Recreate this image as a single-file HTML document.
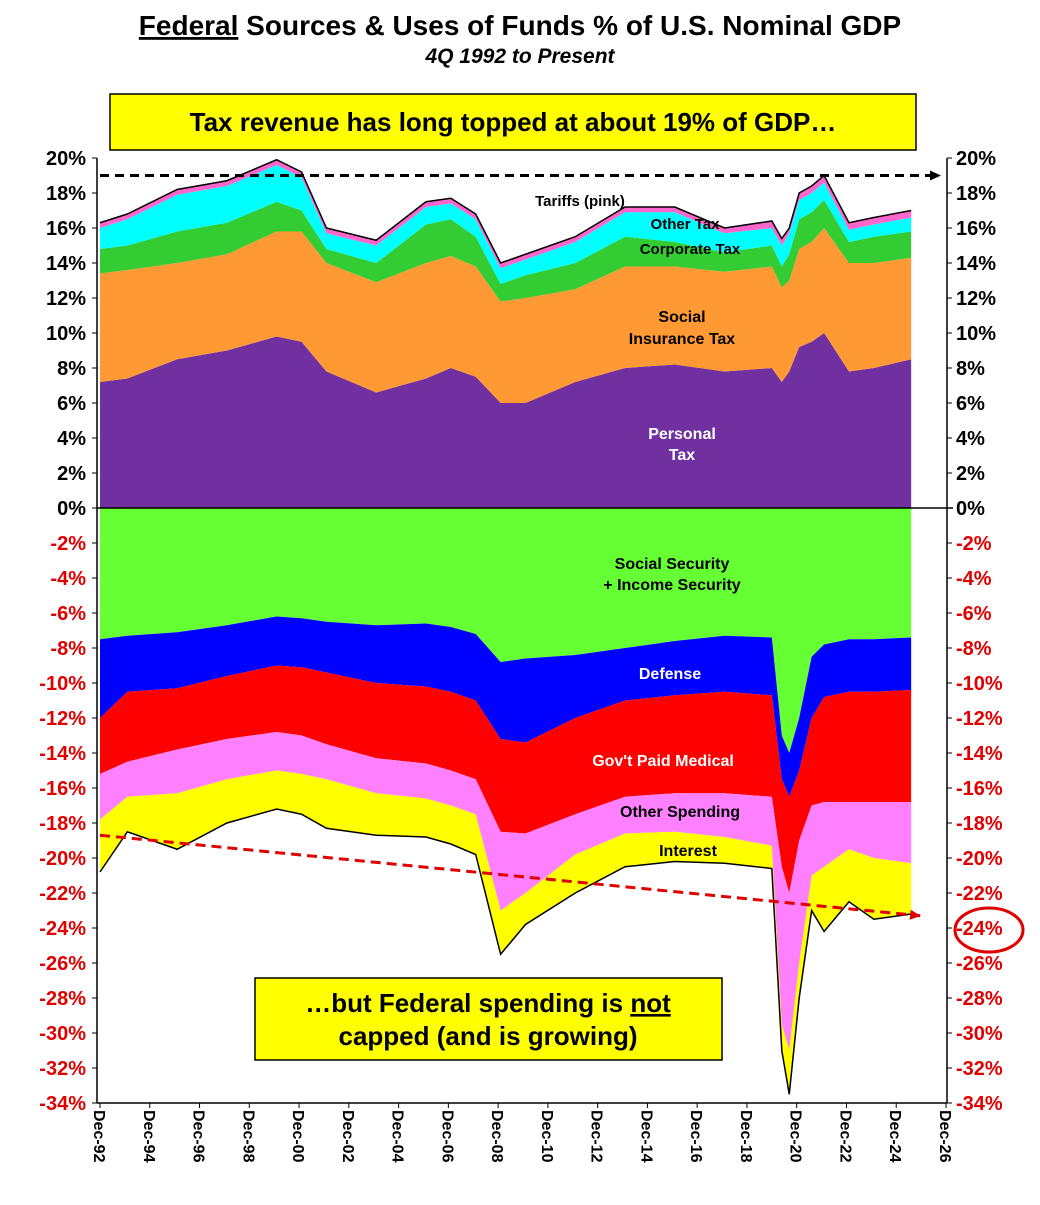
<!DOCTYPE html>
<html><head><meta charset="utf-8">
<style>
html,body{margin:0;padding:0;background:#fff;}
body{width:1040px;height:1200px;overflow:hidden;font-family:"Liberation Sans",Arial,sans-serif;}
svg text{font-family:"Liberation Sans",Arial,sans-serif;font-weight:bold;}
</style></head>
<body>
<svg id="chart" width="1040" height="1200" viewBox="0 0 1040 1200" xmlns="http://www.w3.org/2000/svg">
  <defs>
    <marker id="ab" markerUnits="userSpaceOnUse" markerWidth="12" markerHeight="12" refX="10" refY="6" orient="auto"><path d="M0,1L11,6L0,11Z" fill="#000"/></marker>
    <marker id="ar" markerUnits="userSpaceOnUse" markerWidth="12" markerHeight="12" refX="10" refY="6" orient="auto"><path d="M0,1L11,6L0,11Z" fill="#e00000"/></marker>
  </defs>
  <text x="520" y="35" text-anchor="middle" font-size="28"><tspan text-decoration="underline">Federal</tspan> Sources &amp; Uses of Funds % of U.S. Nominal GDP</text>
  <text x="520" y="63" text-anchor="middle" font-size="21" font-style="italic">4Q 1992 to Present</text>
  <g id="plot"></g>
  <g id="axes"></g>
  <rect x="110" y="94" width="806" height="56" fill="#ffff00" stroke="#000" stroke-width="1.5"/>
  <text x="513" y="131" text-anchor="middle" font-size="26">Tax revenue has long topped at about 19% of GDP…</text>
  <rect x="255" y="978" width="467" height="82" fill="#ffff00" stroke="#000" stroke-width="1.5"/>
  <text x="488" y="1012" text-anchor="middle" font-size="26">…but Federal spending is <tspan text-decoration="underline">not</tspan></text>
  <text x="488" y="1045" text-anchor="middle" font-size="26">capped (and is growing)</text>
  <ellipse cx="989" cy="930" rx="34" ry="22" fill="none" stroke="#e00000" stroke-width="3"/>
</svg>
<script>
const years      = [1992.9,1994,1996,1998,2000,2001,2002,2004,2006,2007,2008,2009,2010,2012,2014,2016,2018,2019.9,2020.3,2020.6,2021,2021.5,2022,2023,2024,2025.5];
const personalTop= [7.2,7.4,8.5,9.0,9.8,9.5,7.8,6.6,7.4,8.0,7.5,6.0,6.0,7.2,8.0,8.2,7.8,8.0,7.2,7.8,9.2,9.5,10.0,7.8,8.0,8.5];
const socialTop  = [13.4,13.6,14.0,14.5,15.8,15.8,14.0,12.9,14.0,14.4,13.8,11.8,12.0,12.5,13.8,13.8,13.5,13.8,12.6,13.0,14.8,15.2,16.0,14.0,14.0,14.3];
const corpTop    = [14.8,15.0,15.8,16.3,17.5,17.0,14.8,14.0,16.2,16.5,15.5,12.8,13.3,14.0,15.5,15.2,14.6,15.0,13.8,14.5,16.5,16.9,17.6,15.2,15.5,15.8];
const otherTop   = [16.0,16.5,17.9,18.4,19.6,18.9,15.7,15.0,17.2,17.4,16.5,13.7,14.2,15.2,16.9,16.9,15.7,16.0,15.0,15.7,17.6,18.0,18.6,15.9,16.2,16.6];
const revTotal   = [16.3,16.8,18.2,18.7,19.9,19.2,16.0,15.3,17.5,17.7,16.8,14.0,14.5,15.5,17.2,17.2,16.0,16.4,15.4,16.0,18.0,18.4,19.0,16.3,16.6,17.0];
const ssBottom   = [-7.5,-7.3,-7.1,-6.7,-6.2,-6.3,-6.5,-6.7,-6.6,-6.8,-7.2,-8.8,-8.6,-8.4,-8.0,-7.6,-7.3,-7.4,-13,-14,-12,-8.5,-7.8,-7.5,-7.5,-7.4];
const defBottom  = [-12,-10.5,-10.3,-9.6,-9.0,-9.1,-9.4,-10.0,-10.2,-10.5,-11.0,-13.2,-13.4,-12.0,-11.0,-10.7,-10.5,-10.7,-15.5,-16.5,-15,-12,-10.8,-10.5,-10.5,-10.4];
const medBottom  = [-15.2,-14.5,-13.8,-13.2,-12.8,-13.0,-13.5,-14.3,-14.6,-15.0,-15.5,-18.5,-18.6,-17.5,-16.5,-16.3,-16.3,-16.5,-20.5,-22,-19,-17,-16.8,-16.8,-16.8,-16.8];
const othBottom  = [-17.8,-16.5,-16.3,-15.5,-15.0,-15.2,-15.5,-16.3,-16.6,-17.0,-17.5,-23.0,-22.0,-19.8,-18.6,-18.5,-18.8,-19.3,-29.5,-31,-26,-21,-20.5,-19.5,-20,-20.3];
const spendTotal = [-20.8,-18.5,-19.5,-18.0,-17.2,-17.5,-18.3,-18.7,-18.8,-19.2,-19.8,-25.5,-23.8,-22.0,-20.5,-20.2,-20.3,-20.6,-31,-33.5,-28,-23,-24.2,-22.5,-23.5,-23.2];
const yTicks = [20,18,16,14,12,10,8,6,4,2,0,-2,-4,-6,-8,-10,-12,-14,-16,-18,-20,-22,-24,-26,-28,-30,-32,-34];
const xTickYears = [1992,1994,1996,1998,2000,2002,2004,2006,2008,2010,2012,2014,2016,2018,2020,2022,2024,2026];
const xTickLabels = ["Dec-92","Dec-94","Dec-96","Dec-98","Dec-00","Dec-02","Dec-04","Dec-06","Dec-08","Dec-10","Dec-12","Dec-14","Dec-16","Dec-18","Dec-20","Dec-22","Dec-24","Dec-26"];

const X0=97, X1=947;
function xs(yr){ return 100 + (yr-1992.9)*(946-100)/(2026.9-1992.9); }
function ys(v){ return 508 - v*17.5; }
const NS="http://www.w3.org/2000/svg";
const plot=document.getElementById('plot'), axes=document.getElementById('axes'), svg=document.getElementById('chart');
function mk(tag,attrs,parent){const e=document.createElementNS(NS,tag);for(const k in attrs)e.setAttribute(k,attrs[k]);(parent||plot).appendChild(e);return e;}
function band(top,bot,color,name){
  let d='M'+xs(years[0])+','+ys(top[0]);
  for(let i=1;i<years.length;i++) d+='L'+xs(years[i])+','+ys(top[i]);
  for(let i=years.length-1;i>=0;i--) d+='L'+xs(years[i])+','+ys(bot[i]);
  const p=mk('path',{d:d+'Z',fill:color});
  
  
}
const zero=years.map(()=>0);
band(personalTop,zero,'#7030a0','personal-tax-area');
band(socialTop,personalTop,'#ff9933','social-insurance-area');
band(corpTop,socialTop,'#33cc33','corporate-tax-area');
band(otherTop,corpTop,'#00ffff','other-tax-area');
band(revTotal,otherTop,'#ff66cc','tariffs-area');
band(zero,ssBottom,'#66ff33','social-security-area');
band(ssBottom,defBottom,'#0000ff','defense-area');
band(defBottom,medBottom,'#ff0000','medical-area');
band(medBottom,othBottom,'#ff80ff','other-spending-area');
band(othBottom,spendTotal,'#ffff00','interest-area');
function line(arr,name){
  const pts=years.map((y,i)=>xs(y)+','+ys(arr[i])).join(' ');
  const l=mk('polyline',{points:pts,fill:'none',stroke:'#000','stroke-width':1.5});
  
  
}
line(revTotal,'revenue-total-line');
line(spendTotal,'spending-total-line');

const labels=[["Tariffs (pink)",580,206,15,'#000'],["Other Tax",685,229,15,'#000'],["Corporate Tax",690,254,15,'#000'],["Social",682,322,16,'#000'],["Insurance Tax",682,344,16,'#000'],["Personal",682,439,16,'#fff'],["Tax",682,460,16,'#fff'],["Social Security",672,569,16,'#000'],["+ Income Security",672,590,16,'#000'],["Defense",670,679,16,'#fff'],["Gov't Paid Medical",663,766,16,'#fff'],["Other Spending",680,817,16,'#000'],["Interest",688,856,16,'#000']];
labels.forEach(l=>{const t=mk('text',{x:l[1],y:l[2],'text-anchor':'middle','font-size':l[3],fill:l[4]});t.textContent=l[0];
  
  });

const l19=mk('line',{x1:100,y1:ys(19),x2:940,y2:ys(19),stroke:'#000','stroke-width':3,'stroke-dasharray':'9,6','marker-end':'url(#ab)'});


const lt=mk('line',{x1:100,y1:ys(-18.7),x2:920,y2:ys(-23.3),stroke:'#e00000','stroke-width':3,'stroke-dasharray':'10,6','marker-end':'url(#ar)'});



mk('line',{x1:X0,y1:ys(20),x2:X0,y2:ys(-34),stroke:'#000','stroke-width':1.5},axes);
mk('line',{x1:X1,y1:ys(20),x2:X1,y2:ys(-34),stroke:'#000','stroke-width':1.5},axes);
mk('line',{x1:X0,y1:ys(0),x2:X1+6,y2:ys(0),stroke:'#000','stroke-width':1.5},axes);
mk('line',{x1:X0,y1:ys(-34),x2:X1,y2:ys(-34),stroke:'#000','stroke-width':1.5},axes);
yTicks.forEach(v=>{
  const y=ys(v), c=v<0?'#e00000':'#000';
  mk('line',{x1:X0-5,y1:y,x2:X0,y2:y,stroke:'#000'},axes);
  mk('line',{x1:X1,y1:y,x2:X1+5,y2:y,stroke:'#000'},axes);
  const a=mk('text',{x:86,y:y+7,'text-anchor':'end','font-size':20,fill:c},axes);a.textContent=v+'%';
  
  
  const b=mk('text',{x:956,y:y+7,'text-anchor':'start','font-size':20,fill:c},axes);b.textContent=v+'%';
  
  
});
xTickYears.forEach((yr,i)=>{
  const x=xs(yr+0.9);
  mk('line',{x1:x,y1:ys(-34),x2:x,y2:ys(-34)+5,stroke:'#000'},axes);
  const t=mk('text',{x:0,y:0,'font-size':16,transform:'translate('+(x-6)+',1110) rotate(90)'},axes);t.textContent=xTickLabels[i];
  
  
});
</script>
</body></html>
